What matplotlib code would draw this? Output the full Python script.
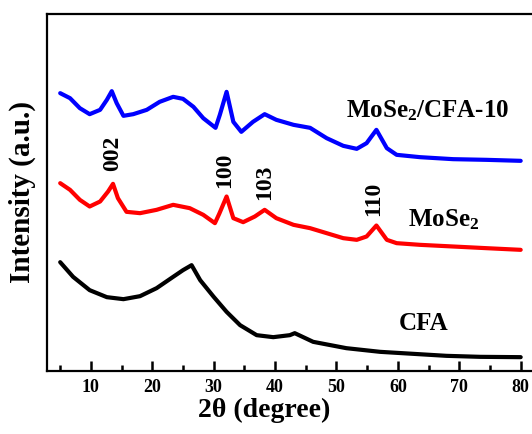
import numpy as np
import matplotlib
matplotlib.use("Agg")
import matplotlib.pyplot as plt

plt.rcParams['font.family'] = ['Liberation Serif', 'DejaVu Serif']
plt.rcParams['font.weight'] = 'bold'
plt.rcParams['mathtext.fontset'] = 'custom'
plt.rcParams['mathtext.rm'] = 'Liberation Serif:bold'
plt.rcParams['mathtext.it'] = 'Liberation Serif:bold'
plt.rcParams['mathtext.bf'] = 'Liberation Serif:bold'

# MoSe2/CFA-10 (blue)
x_blue = [5.0, 6.6, 8.2, 9.8, 11.5, 12.6, 13.4, 14.2, 15.3, 16.9, 19.1, 21.2, 23.4, 25.0,
          26.7, 28.3, 30.3, 31.0, 32.1, 33.2, 34.5, 36.4, 38.3, 40.2, 43.0, 45.7, 48.4, 51.1,
          53.3, 54.9, 56.5, 58.2, 59.8, 63.6, 69.0, 74.4, 80.0]
y_blue = [832, 817, 787, 769, 782, 812, 838, 802, 764, 769, 782, 806, 821, 815,
          791, 757, 728, 767, 836, 746, 716, 746, 769, 752, 737, 728, 697, 674,
          665, 682, 722, 667, 647, 640, 634, 632, 629]

# MoSe2 (red)
x_red = [5.0, 6.6, 8.2, 9.8, 11.5, 12.8, 13.6, 14.4, 15.8, 18.0, 20.7, 23.4, 26.1, 28.3,
         30.2, 30.9, 32.1, 33.2, 34.8, 36.7, 38.3, 40.2, 43.0, 45.7, 48.4, 51.1, 53.3, 54.9,
         56.5, 58.2, 59.8, 63.6, 69.0, 74.4, 80.0]
y_red = [562, 542, 512, 492, 507, 537, 560, 517, 476, 472, 482, 497, 487, 467,
         442, 470, 522, 457, 445, 462, 482, 457, 437, 427, 412, 397, 392, 402,
         435, 392, 382, 377, 372, 367, 362]

# CFA (black)
x_cfa = [5.0, 7.1, 9.8, 12.6, 15.3, 18.0, 20.7, 23.4, 25.0, 26.4, 27.8, 30.0, 32.1, 34.3,
         37.0, 39.7, 42.4, 43.2, 46.2, 51.6, 57.1, 62.5, 67.9, 73.4, 80.0]
y_cfa = [325, 281, 241, 220, 214, 223, 247, 281, 301, 316, 271, 221, 176, 136,
         106, 100, 106, 112, 86, 67, 56, 50, 44, 41, 40]

peaks = ['002', '100', '103', '110']
peak_x = [13.5, 31.7, 38.3, 56.1]
peak_y = [652, 602, 564, 516]

W, H = 532, 434
fig = plt.figure(figsize=(W / 100, H / 100), dpi=100)
x0, x1 = 2.9, 85.0
px_per_deg = 6.14
ax = fig.add_axes([47.3 / W, (H - 370.5) / H, (x1 - x0) * px_per_deg / W, 356.5 / H])

ax.plot(x_blue, y_blue, color='#0000ff', lw=3, solid_joinstyle='round', solid_capstyle='round')
ax.plot(x_red, y_red, color='#ff0000', lw=3, solid_joinstyle='round', solid_capstyle='round')
ax.plot(x_cfa, y_cfa, color='black', lw=3, solid_joinstyle='round', solid_capstyle='round')

ax.set_xlim(x0, x1)
ax.set_ylim(0, 1069.5)
ax.set_xticks(np.arange(10, 81, 10))
ax.set_xticks(np.arange(5, 80, 10), minor=True)
ax.set_yticks([])
ax.tick_params(axis='x', which='major', direction='in', length=7, width=1.8,
               labelsize=13, pad=6)
ax.tick_params(axis='x', which='minor', direction='in', length=4, width=1.8)
for lab in ax.get_xticklabels():
    lab.set_fontweight('bold')
for s in ax.spines.values():
    s.set_linewidth(1.6)

ax.set_xlabel('2θ (degree)', fontsize=20, fontweight='bold')
ax.xaxis.set_label_coords((264 - 47.3) / ((x1 - x0) * px_per_deg), -0.078)
ax.set_ylabel('Intensity (a.u.)', fontsize=21, fontweight='bold', labelpad=8)

ax.text(64.9, 780, 'MoSe$_2$/CFA-10', fontsize=18, fontweight='bold', ha='center', va='center')
ax.text(67.5, 452, 'MoSe$_2$', fontsize=18, fontweight='bold', ha='center', va='center')
ax.text(64.1, 142, 'CFA', fontsize=18, fontweight='bold', ha='center', va='center')
for lab, px, py in zip(peaks, peak_x, peak_y):
    ax.text(px, py, lab, fontsize=17, fontweight='bold', rotation=90,
            ha='center', va='center')

fig.savefig('out.png', dpi=100)
